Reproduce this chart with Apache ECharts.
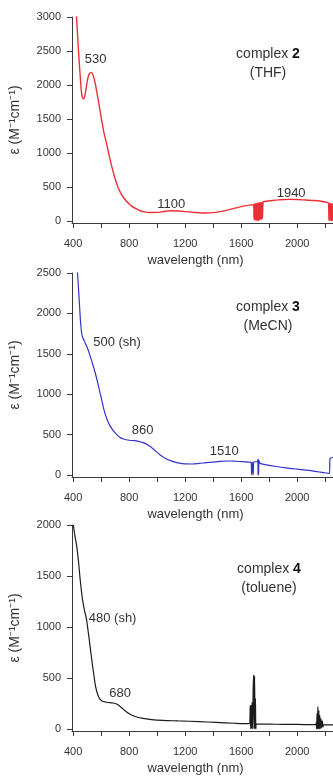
<!DOCTYPE html>
<html>
<head>
<meta charset="utf-8">
<style>
  html, body { margin: 0; padding: 0; background: #fff; }
  #chart { width: 333px; height: 783px; }
</style>
<script src="https://cdn.jsdelivr.net/npm/echarts@6/dist/echarts.min.js"></script>
</head>
<body>
<div id="chart"></div>
<script>
// Absorption spectra: molar absorptivity vs wavelength for complexes 2, 3 and 4.

// complex 2 in THF
const wl2 = [420, 430, 440, 450, 460, 468, 475, 485, 495, 505, 515, 530, 545, 560, 575, 590, 605, 620, 640, 660,
  680, 700, 720, 740, 760, 790, 820, 850, 880, 910, 950, 1000, 1050, 1100, 1150, 1200, 1250, 1300, 1350, 1400,
  1450, 1500, 1550, 1600, 1650, 1688, 1692, 1695, 1698, 1701, 1704, 1707, 1710, 1713, 1716, 1719, 1722, 1725,
  1728, 1731, 1734, 1737, 1740, 1743, 1746, 1749, 1752, 1756, 1760, 1780, 1820, 1870, 1940, 2000, 2060, 2120,
  2170, 2210, 2224, 2227, 2230, 2233, 2236, 2239, 2242, 2245, 2248, 2251, 2254, 2256];
const eps2 = [3150, 2800, 2450, 2150, 1880, 1810, 1795, 1850, 1980, 2100, 2165, 2185, 2130, 2000, 1830, 1650, 1470,
  1300, 1130, 940, 770, 620, 500, 410, 345, 270, 215, 180, 150, 133, 125, 126, 140, 150, 146, 138, 128, 120, 116,
  122, 138, 160, 185, 210, 230, 240, 30, 250, 10, 255, 20, 258, 5, 262, 15, 265, 0, 268, 25, 270, 10, 272, 30,
  274, 20, 276, 40, 280, 285, 290, 300, 310, 318, 316, 308, 300, 290, 275, 266, 15, 262, 5, 258, 10, 255, 0, 252,
  5, 250, 0];

// complex 3 in MeCN
const wl3 = [425, 435, 445, 455, 465, 480, 500, 520, 540, 560, 580, 600, 620, 640, 660, 680, 700, 730, 760, 800,
  840, 860, 900, 940, 980, 1020, 1060, 1100, 1150, 1200, 1250, 1300, 1350, 1400, 1450, 1510, 1560, 1610, 1650,
  1670, 1675, 1680, 1686, 1691, 1715, 1719, 1721, 1723, 1725, 1727, 1732, 1740, 1780, 1850, 1920, 2000, 2080,
  2150, 2200, 2230, 2234, 2240, 2256];
const eps3 = [2650, 2400, 2120, 1850, 1720, 1660, 1580, 1480, 1370, 1250, 1110, 960, 810, 700, 620, 565, 520, 470,
  445, 430, 425, 420, 400, 365, 310, 250, 205, 175, 150, 137, 136, 143, 152, 160, 168, 173, 170, 165, 160, 158, 0,
  160, 0, 162, 165, 190, 0, 195, 5, 180, 150, 140, 125, 105, 88, 72, 57, 40, 28, 18, 200, 210, 220];

// complex 4 in toluene
const wl4 = [402, 412, 426, 440, 450, 465, 480, 495, 510, 522, 535, 548, 560, 575, 590, 610, 640, 680, 700, 720,
  740, 760, 790, 820, 860, 900, 960, 1040, 1150, 1300, 1420, 1550, 1650, 1660, 1665, 1668, 1671, 1674, 1678,
  1682, 1686, 1690, 1693, 1696, 1699, 1702, 1705, 1708, 1800, 1900, 2000, 2100, 2133, 2136, 2139, 2142, 2145,
  2148, 2151, 2155, 2158, 2162, 2166, 2170, 2175, 2180, 2185, 2190, 2256];
const eps4 = [2000, 1900, 1790, 1620, 1470, 1290, 1170, 1080, 930, 800, 660, 530, 420, 340, 295, 272, 262, 255, 250,
  238, 215, 192, 160, 135, 115, 104, 92, 84, 79, 72, 64, 56, 52, 52, 230, 0, 235, 5, 260, 0, 400, 530, 0, 520, 5,
  300, 0, 48, 47, 45, 44, 43, 43, 60, 0, 150, 0, 220, 0, 180, 0, 130, 5, 100, 10, 80, 20, 40, 40];

// axis ticks
const xTicks = [400, 600, 800, 1000, 1200, 1400, 1600, 1800, 2000, 2200];
const xLabels = [400, 800, 1200, 1600, 2000];
const yLabels2 = [0, 500, 1000, 1500, 2000, 2500, 3000];
const yLabels3 = [0, 500, 1000, 1500, 2000, 2500];
const yLabels4 = [0, 500, 1000, 1500, 2000];

// band annotations: [wavelength, epsilon, text]
const bands2 = [[560, 2370, '530'], [1100, 250, '1100'], [1957, 412, '1940']];
const bands3 = [[714, 1646, '500 (sh)'], [896, 557, '860'], [1479, 291, '1510']];
const bands4 = [[682, 1088, '480 (sh)'], [736, 353, '680']];

const FONT = 'Liberation Sans, Arial, sans-serif';
const AXIS_COLOR = '#3a3a3a';
const TEXT_COLOR = '#333';
const plain = v => String(v);

const pairs = (xs, ys) => xs.map((x, i) => [x, ys[i]]);

function xAxisFor(gridIndex) {
  return {
    type: 'value', gridIndex, min: 392, max: 2256,
    name: 'wavelength (nm)', nameLocation: 'middle', nameGap: 31,
    nameTextStyle: { fontFamily: FONT, fontSize: 13, color: TEXT_COLOR, padding: [0, 14, 0, 0] },
    axisLine: { show: true, onZero: false, lineStyle: { color: AXIS_COLOR, width: 1 } },
    axisTick: { show: true, inside: false, length: 5, customValues: xTicks, lineStyle: { color: AXIS_COLOR } },
    axisLabel: { customValues: xLabels, formatter: plain, margin: 15, fontFamily: FONT, fontSize: 11, color: TEXT_COLOR },
    splitLine: { show: false }
  };
}

function yAxisFor(gridIndex, min, max, labels) {
  return {
    type: 'value', gridIndex, min, max,
    name: 'ε (M⁻¹cm⁻¹)', nameLocation: 'middle', nameGap: 50,
    nameTextStyle: { fontFamily: FONT, fontSize: 14, color: TEXT_COLOR },
    axisLine: { show: true, onZero: false, lineStyle: { color: AXIS_COLOR, width: 1 } },
    axisTick: { show: true, inside: false, length: 5, customValues: labels, lineStyle: { color: AXIS_COLOR } },
    axisLabel: { customValues: labels, formatter: plain, margin: 11, fontFamily: FONT, fontSize: 11, color: TEXT_COLOR },
    splitLine: { show: false }
  };
}

function spectrum(idx, data, color, width, bands) {
  return {
    type: 'line', xAxisIndex: idx, yAxisIndex: idx, data,
    showSymbol: false, symbol: 'none', smooth: 0.3, clip: true,
    lineStyle: { color, width },
    silent: true, animation: false,
    markPoint: {
      symbol: 'circle', symbolSize: 0, animation: false,
      label: { show: true, position: 'inside', formatter: '{b}', fontFamily: FONT, fontSize: 13, color: TEXT_COLOR },
      data: bands.map(b => ({ coord: [b[0], b[1]], name: b[2], value: b[0] }))
    }
  };
}

function panelTitle(x, y, num, solvent) {
  return [
    {
      type: 'text', x, y, silent: true,
      style: {
        text: '{n|complex }{b|' + num + '}', align: 'center', verticalAlign: 'middle',
        rich: {
          n: { fontFamily: FONT, fontSize: 14, fill: TEXT_COLOR },
          b: { fontFamily: FONT, fontSize: 14, fontWeight: 'bold', fill: '#111' }
        }
      }
    },
    {
      type: 'text', x, y: y + 19, silent: true,
      style: { text: solvent, align: 'center', verticalAlign: 'middle', fontFamily: FONT, fontSize: 14, fill: TEXT_COLOR }
    }
  ];
}

const chart = echarts.init(document.getElementById('chart'), null, { renderer: 'canvas' });
chart.setOption({
  animation: false,
  backgroundColor: '#fff',
  grid: [
    { left: 72, width: 261, top: 17, height: 206 },
    { left: 72, width: 261, top: 273, height: 204 },
    { left: 72, width: 261, top: 525, height: 206 }
  ],
  xAxis: [xAxisFor(0), xAxisFor(1), xAxisFor(2)],
  yAxis: [
    yAxisFor(0, -30, 3000, yLabels2),
    yAxisFor(1, -25, 2500, yLabels3),
    yAxisFor(2, -20, 2000, yLabels4)
  ],
  series: [
    spectrum(0, pairs(wl2, eps2), '#ec2f36', 1.4, bands2),
    spectrum(1, pairs(wl3, eps3), '#3434cc', 1.2, bands3),
    spectrum(2, pairs(wl4, eps4), '#1c1c1c', 1.2, bands4)
  ],
  graphic: [].concat(
    panelTitle(268, 54, '2', '(THF)'),
    panelTitle(268, 307, '3', '(MeCN)'),
    panelTitle(269, 569, '4', '(toluene)')
  )
});
</script>
</body>
</html>
